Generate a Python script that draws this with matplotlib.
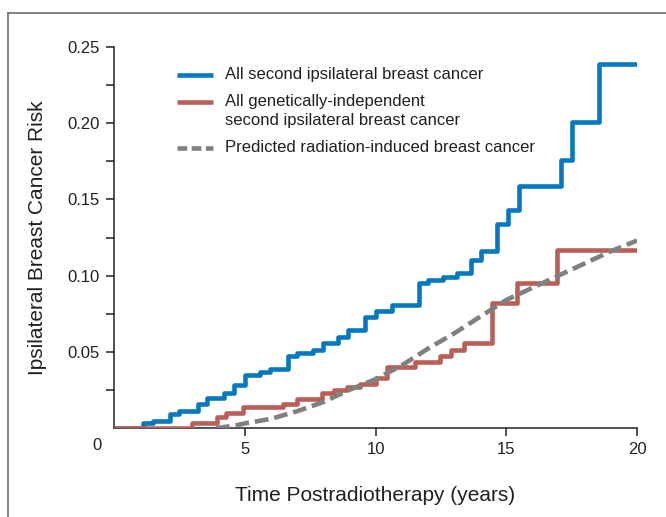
import numpy as np
import matplotlib
matplotlib.use('Agg')
import matplotlib.pyplot as plt
from matplotlib.lines import Line2D
import matplotlib.transforms as mtransforms

# Step curves (time in years, cumulative risk)
blue_t = [0, 1.1, 1.5, 2.15, 2.5, 3.2, 3.55, 4.2, 4.6, 5.0, 5.6, 5.95, 6.65, 7.0, 7.6, 8.0,
          8.55, 8.95, 9.6, 10.0, 10.65, 11.65, 12.0, 12.6, 13.1, 13.65, 14.05, 14.65, 15.05,
          15.5, 17.1, 17.5, 18.55, 20]
blue_r = [0, 0.003, 0.0045, 0.009, 0.011, 0.016, 0.020, 0.023, 0.028, 0.035, 0.037, 0.039,
          0.047, 0.049, 0.051, 0.056, 0.060, 0.064, 0.073, 0.077, 0.081, 0.095, 0.097, 0.099,
          0.102, 0.110, 0.116, 0.134, 0.143, 0.159, 0.176, 0.201, 0.239, 0.239]

red_t = [0, 3.0, 3.95, 4.3, 4.95, 6.45, 7.0, 7.95, 8.4, 8.9, 9.4, 10.0, 10.45, 11.5, 12.45,
         12.9, 13.4, 14.45, 15.4, 16.95, 20]
red_r = [0, 0.003, 0.007, 0.010, 0.014, 0.016, 0.019, 0.023, 0.025, 0.027, 0.029, 0.033,
         0.040, 0.043, 0.047, 0.051, 0.056, 0.082, 0.095, 0.117, 0.117]

# predicted radiation-induced curve
pred_t = [3.9, 4.5, 5, 6, 7, 8, 9, 10, 11, 12, 13, 14, 15, 16, 17, 18, 19, 20]
pred_r = [0, 0.0012, 0.003, 0.006, 0.011, 0.017, 0.025, 0.032, 0.041, 0.052, 0.062, 0.073,
          0.084, 0.092, 0.100, 0.108, 0.116, 0.123]

labels = ['All second ipsilateral breast cancer',
          'All genetically-independent\nsecond ipsilateral breast cancer',
          'Predicted radiation-induced breast cancer']

BLUE = '#0479c2'
RED = '#b95f58'
GRAY = '#808080'
TXT = '#231f20'

plt.rcParams['font.family'] = ['Liberation Sans', 'DejaVu Sans']

fig = plt.figure(figsize=(6.66, 5.17), dpi=100)
ax = fig.add_axes([114 / 666, 1 - 428 / 517, (637 - 114) / 666, (428 - 47) / 517])

ax.step(blue_t, blue_r, where='post', color=BLUE, lw=3.3, zorder=3)
ax.step(red_t, red_r, where='post', color=RED, lw=3.3, zorder=4)
ax.plot(pred_t, pred_r, color=GRAY, lw=3.3, dashes=(3, 1.3), zorder=5)

ax.set_xlim(0, 20)
ax.set_ylim(0, 0.25)
ax.set_xticks([5, 10, 15, 20])
ax.set_yticks([0.05, 0.10, 0.15, 0.20, 0.25])
ax.set_yticklabels(['0.05', '0.10', '0.15', '0.20', '0.25'])
ax.set_yticks([0.025, 0.075, 0.125, 0.175, 0.225], minor=True)
ax.tick_params(axis='both', which='both', direction='out', length=6, width=1.1,
               colors=TXT, labelsize=12, pad=4)
ax.tick_params(axis='x', pad=4)
# corner "0" label sits left of the origin, on the x tick-label row
trans = mtransforms.blended_transform_factory(ax.transData, ax.transAxes)
ax.text(-0.65, -18 / 381, '0', transform=trans, ha='center', va='center',
        fontsize=12, color=TXT)

for s in ['top', 'right']:
    ax.spines[s].set_visible(False)
for s in ['left', 'bottom']:
    ax.spines[s].set_linewidth(1.1)
    ax.spines[s].set_color(TXT)

ax.set_ylabel('Ipsilateral Breast Cancer Risk', fontsize=15, color=TXT, labelpad=15)
ax.set_xlabel('Time Postradiotherapy (years)', fontsize=15, color=TXT, labelpad=21)

# legend drawn by hand so the two-line label keeps its handle on the first line
leg_styles = [dict(color=BLUE), dict(color=RED), dict(color=GRAY, dashes=(2.1, 1.0))]
handle_rows = [0.9265, 0.856, 0.7349]
line_gap = 19 / 381
for lab, st, yy in zip(labels, leg_styles, handle_rows):
    ax.add_line(Line2D([0.1205, 0.1893], [yy, yy], transform=ax.transAxes, lw=3.3,
                       solid_capstyle='butt', **st))
    for k, part in enumerate(lab.split('\n')):
        ax.text(0.2122, yy + 0.002 - k * line_gap, part, transform=ax.transAxes,
                ha='left', va='center', fontsize=12, color=TXT)

# figure border (left and top only, as cropped in the reference)
fig.add_artist(Line2D([7.5 / 666, 7.5 / 666], [0, 1 - 13 / 517], color='#6d6d6d', lw=1.2,
                      transform=fig.transFigure))
fig.add_artist(Line2D([7.5 / 666, 1], [1 - 13 / 517, 1 - 13 / 517], color='#6d6d6d', lw=1.2,
                      transform=fig.transFigure))

fig.savefig('out.png', dpi=100)
